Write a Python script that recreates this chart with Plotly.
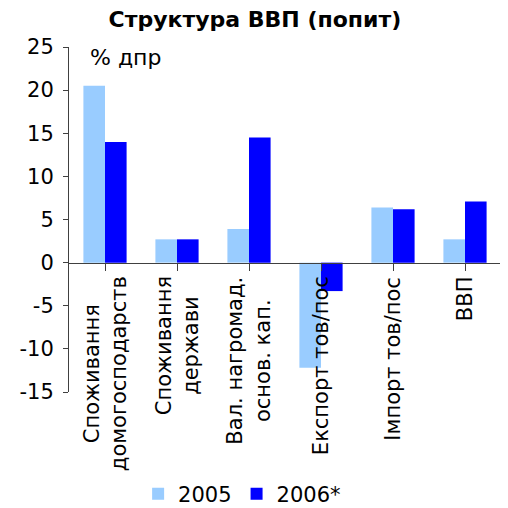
import plotly.graph_objects as go

categories = ["Споживання<br>домогосподарств", "Споживання<br>держави",
              "Вал. нагромад.<br>основ. кап.", "Експорт тов/пос",
              "Імпорт тов/пос", "ВВП"]
values_2005 = [20.5, 2.7, 3.9, -12.2, 6.4, 2.7]
values_2006 = [14.0, 2.7, 14.5, -3.3, 6.2, 7.1]
y_ticks = [-15, -10, -5, 0, 5, 10, 15, 20, 25]
y_ticktext = ["-15", "-10", "-5", "0", "5", "10", "15", "20", "25"]

FONT = "DejaVu Sans"
AXIS = "#404040"
x_idx = list(range(len(categories)))

fig = go.Figure()
fig.add_trace(go.Bar(x=x_idx, y=values_2005, name="2005", marker_color="#99CCFF",
                     marker_line_width=0))
fig.add_trace(go.Bar(x=x_idx, y=values_2006, name="2006*", marker_color="#0000FF",
                     marker_line_width=0))

for i, c in enumerate(categories):
    fig.add_annotation(x=i, y=0, xref="x", yref="y", text=c, textangle=-90,
                       showarrow=False, xanchor="center", yanchor="top",
                       yshift=-12, align="center",
                       font=dict(family=FONT, size=21, color="black"))

fig.add_annotation(x=0.044, y=0.971, xref="paper", yref="paper", text="% дпр",
                   showarrow=False, xanchor="left", yanchor="middle",
                   font=dict(family=FONT, size=22, color="black"))

fig.update_layout(
    width=508, height=508,
    margin=dict(l=61, r=15, t=39, b=124, autoexpand=False),
    paper_bgcolor="white", plot_bgcolor="white",
    barmode="group", bargap=0.4, bargroupgap=0,
    title=dict(text="<b>Структура ВВП (попит)</b>", x=0.486, xanchor="center",
               y=0.977, yanchor="middle",
               font=dict(family=FONT, size=22, color="black")),
    font=dict(family=FONT, size=21, color="black"),
    showlegend=True,
    legend=dict(orientation="h", x=0.16, xanchor="left", y=-0.355, yanchor="bottom",
                font=dict(family=FONT, size=21, color="black"),
                itemwidth=30, tracegroupgap=0, bgcolor="rgba(0,0,0,0)"),
    xaxis=dict(range=[-0.5, len(categories) - 0.5], anchor="free", position=0.375,
               showline=True, linecolor=AXIS, linewidth=1,
               ticks="outside", ticklen=7, tickcolor=AXIS,
               tickmode="array", tickvals=x_idx, tickson="boundaries",
               showticklabels=False, showgrid=False, zeroline=False),
    yaxis=dict(range=[-15, 25], tickmode="array", tickvals=y_ticks,
               ticktext=y_ticktext, showline=True,
               linecolor=AXIS, linewidth=1, ticks="outside", ticklen=5,
               tickcolor=AXIS, showgrid=False, zeroline=False,
               ticklabelstandoff=5,
               tickfont=dict(family=FONT, size=21, color="black")),
)

fig.write_html("out.html")
